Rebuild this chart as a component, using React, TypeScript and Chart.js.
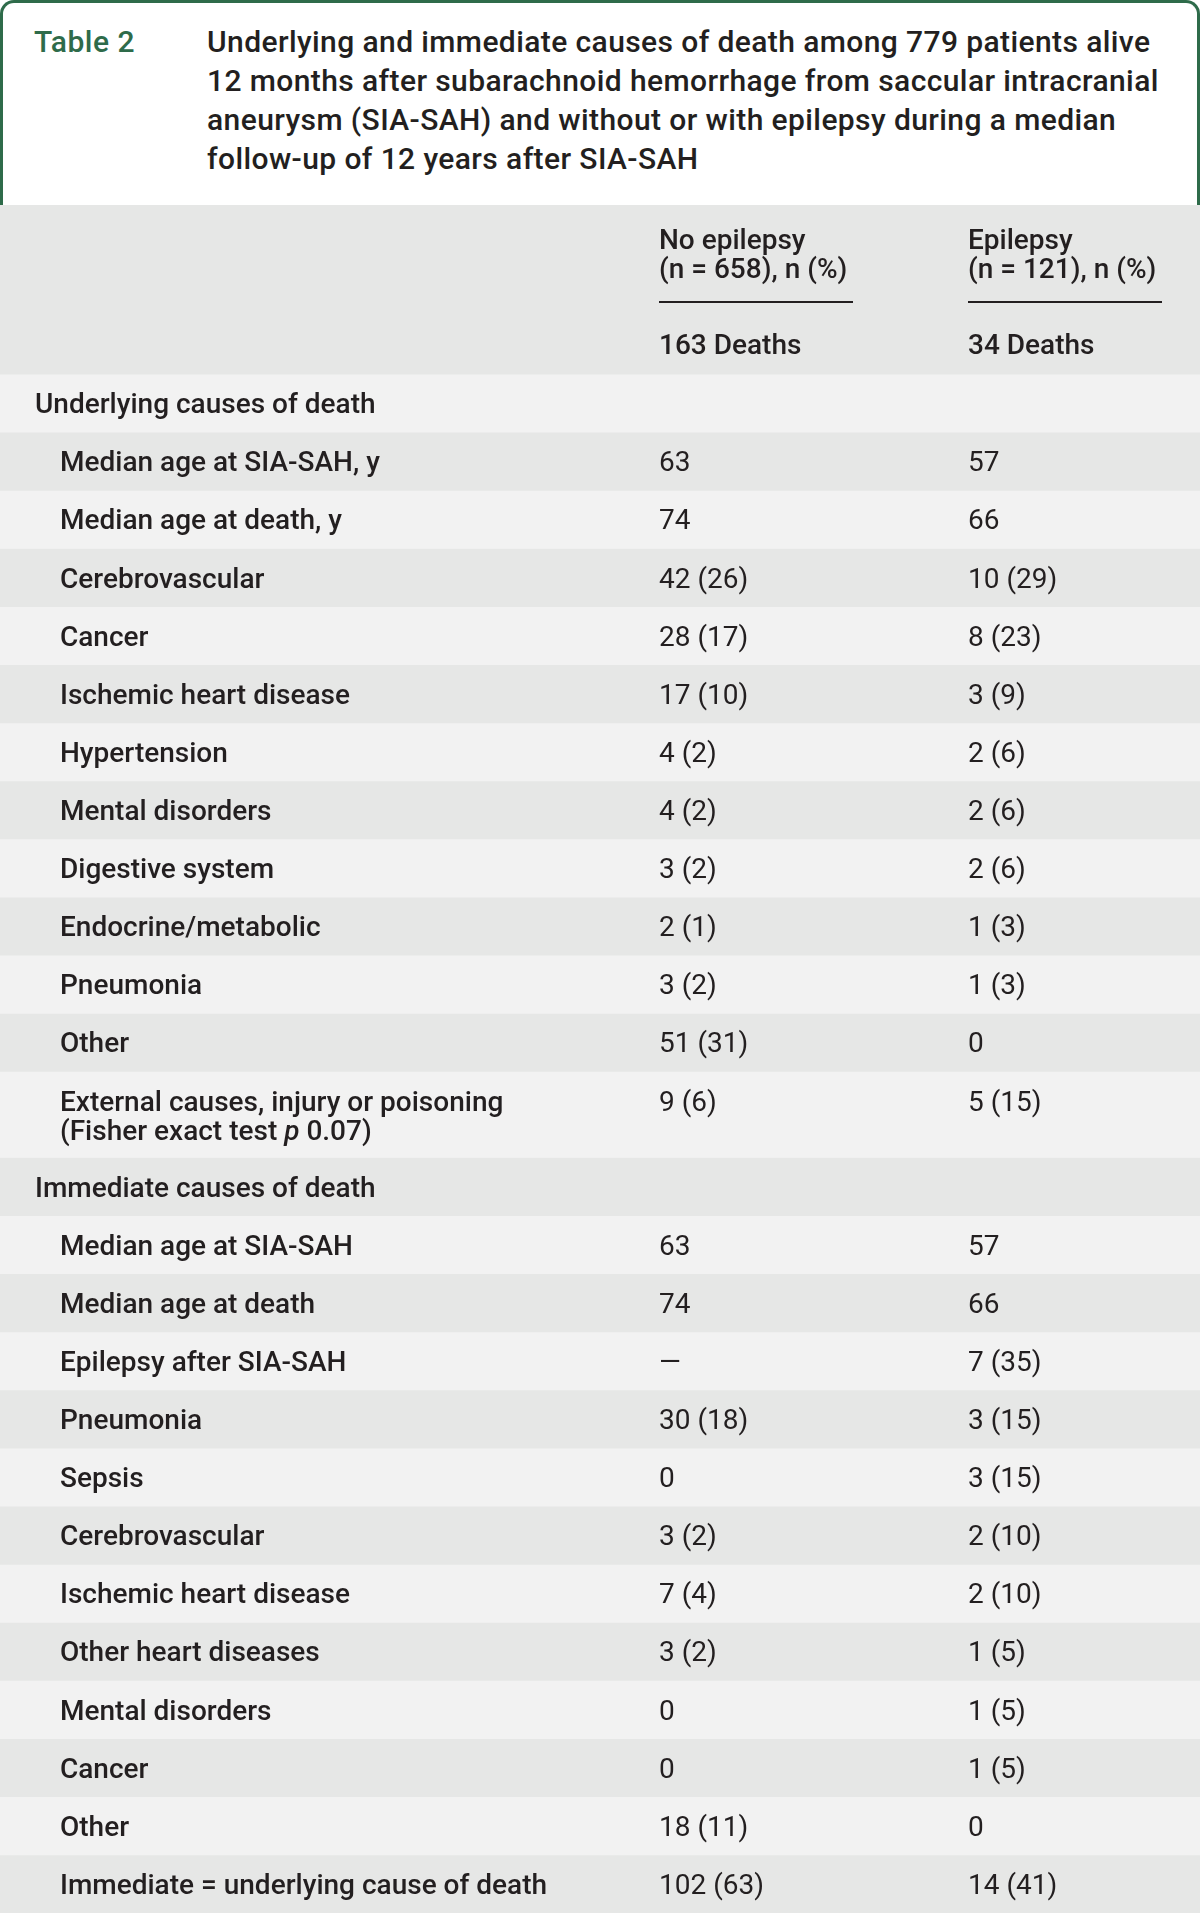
import React, { useEffect, useRef } from "react";
import { Chart, registerables } from "chart.js";

Chart.register(...registerables);

// ---------- data ----------
const TABLE_NUMBER = "Table 2";
const TITLE_LINES = [
  "Underlying and immediate causes of death among 779 patients alive",
  "12 months after subarachnoid hemorrhage from saccular intracranial",
  "aneurysm (SIA-SAH) and without or with epilepsy during a median",
  "follow-up of 12 years after SIA-SAH",
];
const COLUMN_HEADERS = [
  ["No epilepsy", "(n = 658), n (%)"],
  ["Epilepsy", "(n = 121), n (%)"],
];
const DEATH_TOTALS = ["163 Deaths", "34 Deaths"];
const SECTION_HEADINGS = ["Underlying causes of death", "Immediate causes of death"];
const ROW_LABELS = [
  "Underlying causes of death",
  "Median age at SIA-SAH, y",
  "Median age at death, y",
  "Cerebrovascular",
  "Cancer",
  "Ischemic heart disease",
  "Hypertension",
  "Mental disorders",
  "Digestive system",
  "Endocrine/metabolic",
  "Pneumonia",
  "Other",
  "External causes, injury or poisoning|(Fisher exact test *p* 0.07)",
  "Immediate causes of death",
  "Median age at SIA-SAH",
  "Median age at death",
  "Epilepsy after SIA-SAH",
  "Pneumonia",
  "Sepsis",
  "Cerebrovascular",
  "Ischemic heart disease",
  "Other heart diseases",
  "Mental disorders",
  "Cancer",
  "Other",
  "Immediate = underlying cause of death",
];
const NO_EPILEPSY = [
  "", "63", "74", "42 (26)", "28 (17)", "17 (10)", "4 (2)", "4 (2)", "3 (2)", "2 (1)", "3 (2)", "51 (31)", "9 (6)",
  "", "63", "74", "\u2014", "30 (18)", "0", "3 (2)", "7 (4)", "3 (2)", "0", "0", "18 (11)", "102 (63)",
];
const EPILEPSY = [
  "", "57", "66", "10 (29)", "8 (23)", "3 (9)", "2 (6)", "2 (6)", "2 (6)", "1 (3)", "1 (3)", "0", "5 (15)",
  "", "57", "66", "7 (35)", "3 (15)", "3 (15)", "2 (10)", "2 (10)", "1 (5)", "1 (5)", "1 (5)", "0", "14 (41)",
];

// ---------- layout / style ----------
const GREEN = "#2e6b4a";
const TEXT = "#231f20";
const DARK_BAND = "#e6e7e6";
const LIGHT_BAND = "#f2f2f2";
const FONT = "Roboto, 'Noto Sans', sans-serif";
const BODY_SIZE = 28;
const HEADER_UNITS = 2.91;
const EXTRA_LINE_UNITS = 0.48;
const CANVAS_W = 1200;
const CANVAS_H = 1708;
const SECTION_X = 35;
const ITEM_X = 60;
const COL_X = [659, 968];
const RULE_W = 194;

function rowLines(label: string) {
  return label.split("|");
}

function buildBands() {
  const bands: { top: number; bottom: number; color: string }[] = [];
  bands.push({ top: 0, bottom: HEADER_UNITS, color: DARK_BAND });
  let y = HEADER_UNITS;
  ROW_LABELS.forEach((label, i) => {
    const h = 1 + (rowLines(label).length - 1) * EXTRA_LINE_UNITS;
    bands.push({ top: y, bottom: y + h, color: i % 2 === 0 ? LIGHT_BAND : DARK_BAND });
    y += h;
  });
  return { bands, total: y };
}

function drawRich(ctx: CanvasRenderingContext2D, text: string, x: number, y: number, weight: number) {
  const parts = text.split("*");
  let cx = x;
  parts.forEach((p, k) => {
    if (!p) return;
    ctx.font = `${k % 2 === 1 ? "italic " : ""}${weight} ${BODY_SIZE}px ${FONT}`;
    ctx.fillText(p, cx, y);
    cx += ctx.measureText(p).width;
  });
}

const tablePlugin = {
  id: "tableText",
  afterDatasetsDraw(chart: any) {
    const ctx: CanvasRenderingContext2D = chart.ctx;
    const ys = chart.scales.y;
    const { bands } = buildBands();
    const unitPx = ys.getPixelForValue(1) - ys.getPixelForValue(0);
    ctx.save();
    ctx.fillStyle = TEXT;
    ctx.textBaseline = "alphabetic";
    ctx.textAlign = "left";
    // column header
    const h0 = ys.getPixelForValue(0);
    COLUMN_HEADERS.forEach((lines, c) => {
      ctx.font = `500 ${BODY_SIZE}px ${FONT}`;
      ctx.fillText(lines[0], COL_X[c], h0 + 44);
      ctx.fillText(lines[1], COL_X[c], h0 + 73);
      ctx.fillRect(COL_X[c], h0 + 96, RULE_W, 2);
      ctx.fillText(DEATH_TOTALS[c], COL_X[c], h0 + 149);
    });
    // rows
    ROW_LABELS.forEach((label, i) => {
      const band = bands[i + 1];
      const top = ys.getPixelForValue(band.top);
      const base = top + unitPx / 2 + 10;
      const isSection = SECTION_HEADINGS.includes(label);
      const x = isSection ? SECTION_X : ITEM_X;
      rowLines(label).forEach((ln, k) => {
        drawRich(ctx, ln, x, base + k * 29, 500);
      });
      ctx.font = `400 ${BODY_SIZE}px ${FONT}`;
      if (NO_EPILEPSY[i]) ctx.fillText(NO_EPILEPSY[i], COL_X[0], base);
      if (EPILEPSY[i]) ctx.fillText(EPILEPSY[i], COL_X[1], base);
    });
    ctx.restore();
  },
};

export default function App() {
  const ref = useRef<HTMLCanvasElement>(null);
  useEffect(() => {
    const canvas = ref.current;
    if (!canvas) return;
    const { bands, total } = buildBands();
    const chart = new Chart(canvas, {
      type: "bar",
      data: {
        labels: ["table"],
        datasets: bands.map((b, i) => ({
          label: `band${i}`,
          data: [[b.top, b.bottom]] as any,
          backgroundColor: b.color,
          borderWidth: 0,
          borderSkipped: false,
          barPercentage: 1,
          categoryPercentage: 1,
          stack: "rows",
        })),
      },
      options: {
        responsive: false,
        animation: false,
        devicePixelRatio: 1,
        layout: { padding: 0 },
        plugins: { legend: { display: false }, tooltip: { enabled: false } },
        scales: {
          x: { display: false, stacked: true, grid: { display: false } },
          y: { display: false, stacked: false, reverse: true, min: 0, max: total, grid: { display: false } },
        },
      },
      plugins: [tablePlugin],
    });
    return () => chart.destroy();
  }, []);

  return (
    <div style={{ width: 1200, fontFamily: FONT, color: TEXT }}>
      <style>{`body{margin:0;}`}</style>
      <div
        style={{
          position: "relative",
          height: 205,
          boxSizing: "border-box",
          border: `3px solid ${GREEN}`,
          borderBottom: "none",
          borderRadius: "14px 14px 0 0",
          background: "#fff",
        }}
      >
        <div
          style={{
            position: "absolute",
            left: 31,
            top: 19,
            fontSize: 30,
            lineHeight: "39px",
            fontWeight: 500,
            letterSpacing: "0.5px",
            color: GREEN,
          }}
        >
          {TABLE_NUMBER}
        </div>
        <div
          style={{
            position: "absolute",
            left: 204,
            top: 19,
            fontSize: 30,
            lineHeight: "39px",
            fontWeight: 500,
            letterSpacing: "0.4px",
            whiteSpace: "nowrap",
          }}
        >
          {TITLE_LINES.map((t, i) => (
            <div key={i}>{t}</div>
          ))}
        </div>
      </div>
      <canvas ref={ref} width={CANVAS_W} height={CANVAS_H} style={{ display: "block", width: CANVAS_W, height: CANVAS_H }} />
    </div>
  );
}
